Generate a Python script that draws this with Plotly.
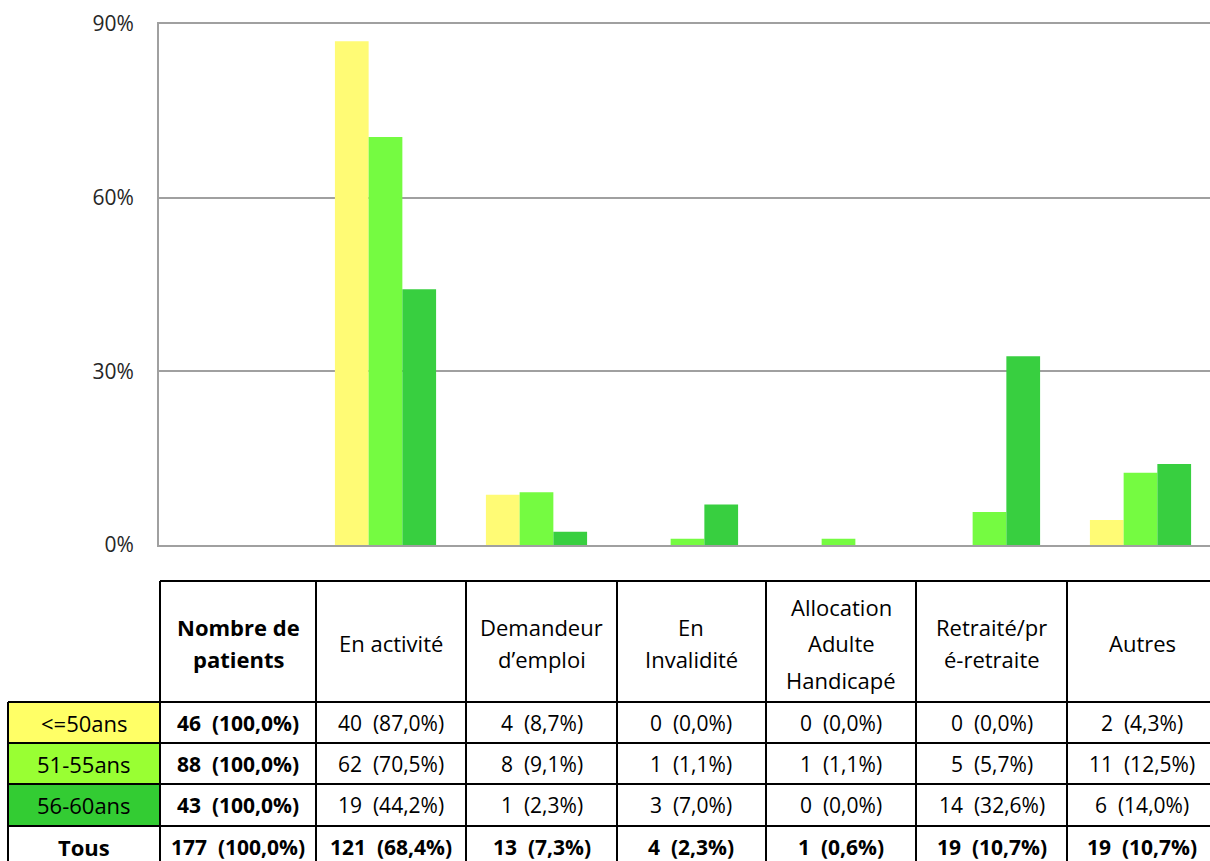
import plotly.graph_objects as go

# Column headings of the table (the first column holds the group sizes)
categories = [
    "Nombre de\npatients",
    "En activité",
    "Demandeur\nd’emploi",
    "En\nInvalidité",
    "Allocation\nAdulte\nHandicapé",
    "Retraité/pr\né-retraite",
    "Autres",
]

groups = ["<=50ans", "51-55ans", "56-60ans"]
total_label = "Tous"

# Patient counts per column, one list per age group
counts_le50 = [46, 40, 4, 0, 0, 0, 2]
counts_51_55 = [88, 62, 8, 1, 1, 5, 11]
counts_56_60 = [43, 19, 1, 3, 0, 14, 6]
counts_all = [177, 121, 13, 4, 1, 19, 19]

# Percentages per column (first column is the 100 % reference)
pct_le50 = [100.0, 87.0, 8.7, 0.0, 0.0, 0.0, 4.3]
pct_51_55 = [100.0, 70.5, 9.1, 1.1, 1.1, 5.7, 12.5]
pct_56_60 = [100.0, 44.2, 2.3, 7.0, 0.0, 32.6, 14.0]
pct_all = [100.0, 68.4, 7.3, 2.3, 0.6, 10.7, 10.7]

y_ticks = [0, 30, 60, 90]

bar_colors = ["#FFFB75", "#75FB41", "#38CF40"]
cell_colors = ["#FFFF66", "#99FF33", "#33CC33"]

W, H = 1210, 861


def px(x):
    return x / W


def py(y):
    return 1 - y / H


x_keys = [c.replace("\n", " ") for c in categories]

fig = go.Figure()
for name, pct, color in zip(groups, [pct_le50, pct_51_55, pct_56_60], bar_colors):
    # the reference column carries no bar
    yvals = [None] + pct[1:]
    fig.add_trace(go.Bar(x=x_keys, y=yvals, name=name, marker=dict(color=color, line=dict(width=0))))

# ---- plot area ----
left_px, top_px, bottom_px = 159, 24, 545
fig.update_layout(
    width=W,
    height=H,
    margin=dict(l=0, r=0, t=0, b=0, autoexpand=False),
    paper_bgcolor="white",
    plot_bgcolor="white",
    showlegend=False,
    barmode="group",
    bargap=0.33,
    bargroupgap=0,
    xaxis=dict(
        domain=[px(left_px), 1],
        range=[-0.5, (W - left_px) / 151 - 0.5],
        showticklabels=False,
        showgrid=False,
        showline=True,
        mirror=True,
        linecolor="#A0A0A0",
        linewidth=2,
        ticks="",
        automargin=False,
        fixedrange=True,
    ),
    yaxis=dict(
        domain=[py(bottom_px), py(top_px)],
        range=[0, 90],
        tickvals=y_ticks,
        ticktext=[f"{v}%" for v in y_ticks],
        showgrid=True,
        gridcolor="#A0A0A0",
        gridwidth=2,
        zeroline=False,
        showline=True,
        linecolor="#A0A0A0",
        linewidth=2,
        ticks="",
        ticklabelstandoff=19,
        tickfont=dict(family="Open Sans", size=21, color="#262626"),
        automargin=False,
        fixedrange=True,
    ),
)

# ---- table below the plot ----
col_edges = [160, 316, 466, 617, 766, 916, 1067, 1217]
col_centers = [(a + b) / 2 for a, b in zip(col_edges[:-1], col_edges[1:])]
col_centers[-1] = 1142
label_left = 8
header_top, header_bottom = 581, 702
row_edges = [702, 743, 784, 826, 867]
row_centers = [(a + b) / 2 for a, b in zip(row_edges[:-1], row_edges[1:])]

shapes = []
line_style = dict(color="black", width=2)

# coloured group label cells
for i, color in enumerate(cell_colors):
    shapes.append(dict(type="rect", xref="paper", yref="paper",
                       x0=px(label_left), x1=px(col_edges[0]),
                       y0=py(row_edges[i]), y1=py(row_edges[i + 1]),
                       fillcolor=color, line=dict(width=0), layer="below"))

# horizontal rules
shapes.append(dict(type="line", xref="paper", yref="paper",
                   x0=px(col_edges[0]), x1=1.01, y0=py(header_top), y1=py(header_top), line=line_style))
for y in row_edges[:-1]:
    shapes.append(dict(type="line", xref="paper", yref="paper",
                       x0=px(label_left), x1=1.01, y0=py(y), y1=py(y), line=line_style))
# vertical rules
shapes.append(dict(type="line", xref="paper", yref="paper",
                   x0=px(label_left), x1=px(label_left), y0=py(header_bottom), y1=-0.01, line=line_style))
for x in col_edges[:-1]:
    shapes.append(dict(type="line", xref="paper", yref="paper",
                       x0=px(x), x1=px(x), y0=py(header_top), y1=-0.01, line=line_style))

fig.update_layout(shapes=shapes)

font_family = "Open Sans"
annotations = []


def add_text(text, x, y, bold=False, size=21):
    t = f"<b>{text}</b>" if bold else text
    annotations.append(dict(text=t, x=px(x), y=py(y), xref="paper", yref="paper",
                            xanchor="center", yanchor="middle", showarrow=False,
                            font=dict(family=font_family, size=size, color="black")))


# header cells, one annotation per line
header_mid = 643
for j, cat in enumerate(categories):
    lines = cat.split("\n")
    n = len(lines)
    step = 36.5 if n >= 3 else 32
    for k, line in enumerate(lines):
        y = header_mid + (k - (n - 1) / 2) * step
        add_text(line, col_centers[j], y, bold=(j == 0), size=22)


def fmt(c, p):
    return f"{c}  ({p:.1f}%)".replace(".", ",")


rows = [
    (groups[0], counts_le50, pct_le50, False),
    (groups[1], counts_51_55, pct_51_55, False),
    (groups[2], counts_56_60, pct_56_60, False),
    (total_label, counts_all, pct_all, True),
]
for i, (label, cnts, pcts, is_total) in enumerate(rows):
    yc = row_centers[i]
    add_text(label, (label_left + col_edges[0]) / 2, yc, bold=is_total, size=22)
    for j, (c, p) in enumerate(zip(cnts, pcts)):
        add_text(fmt(c, p), col_centers[j], yc, bold=(is_total or j == 0))

fig.update_layout(annotations=annotations)

fig.write_html("out.html")
